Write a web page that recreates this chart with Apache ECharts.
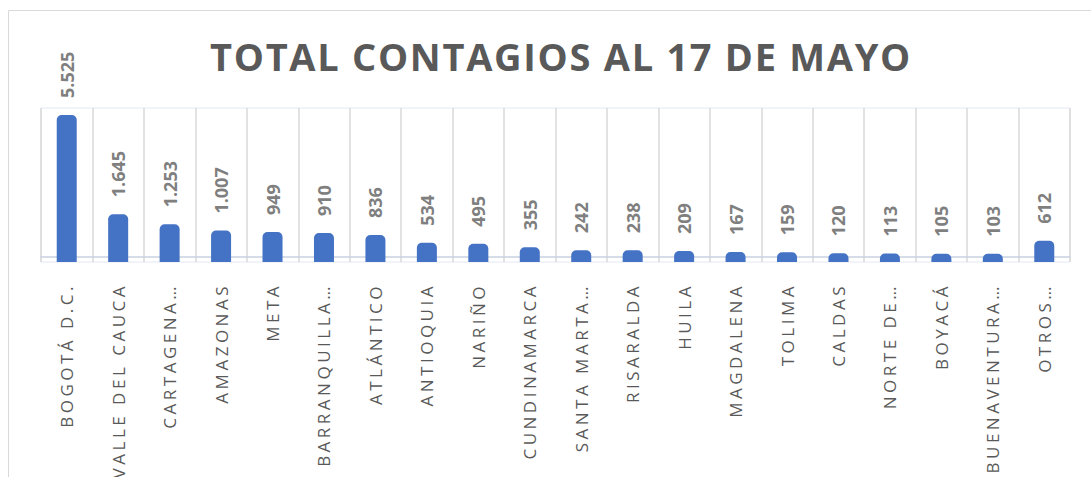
<!DOCTYPE html>
<html lang="es">
<head>
    <meta charset="UTF-8">
    <title>Total contagios al 17 de mayo</title>
    <style>
        html, body { margin: 0; padding: 0; background: #fff; }
        #echarts text[style*="17px"] { letter-spacing: 3.5px; }
        #echarts text[style*="38px"] { letter-spacing: 1.7px; }
    </style>
</head>
<body>

    <div id="echarts" style="width: 1091px; height: 477px"></div>
    <script src="https://cdn.jsdelivr.net/npm/echarts@6/dist/echarts.min.js"></script>
    <script>
        // datos
        const departamentos = ['BOGOTÁ D.C.', 'VALLE DEL CAUCA', 'CARTAGENA…', 'AMAZONAS', 'META',
            'BARRANQUILLA…', 'ATLÁNTICO', 'ANTIOQUIA', 'NARIÑO', 'CUNDINAMARCA', 'SANTA MARTA…',
            'RISARALDA', 'HUILA', 'MAGDALENA', 'TOLIMA', 'CALDAS', 'NORTE DE…', 'BOYACÁ',
            'BUENAVENTURA…', 'OTROS…'];
        const contagios = [5525, 1645, 1253, 1007, 949, 910, 836, 534, 495, 355, 242, 238, 209, 167,
            159, 120, 113, 105, 103, 612];

        const puntos = v => String(v).replace(/\B(?=(\d{3})+(?!\d))/g, '.');

        const option = {
            backgroundColor: '#fff',
            title: {
                text: 'TOTAL CONTAGIOS AL 17 DE MAYO',
                left: 556,
                textAlign: 'center',
                top: 32,
                textStyle: {
                    fontFamily: 'Open Sans',
                    fontSize: 38,
                    fontWeight: 'bold',
                    color: '#595959'
                }
            },
            graphic: [{
                type: 'polyline',
                shape: { points: [[8.5, 477], [8.5, 10.5], [1091, 10.5]] },
                style: { stroke: '#d9d9d9', fill: null, lineWidth: 1 },
                silent: true
            }],
            grid: {
                left: 41, right: 21, top: 108, bottom: 215,
                show: true,
                borderColor: '#e3e8f1',
                borderWidth: 1
            },
            xAxis: {
                type: 'category',
                data: departamentos,
                axisTick: { show: false },
                axisLine: { lineStyle: { color: '#c9d1e0', width: 1.5 } },
                splitLine: { show: true, lineStyle: { color: '#d9d9d9', width: 1.5 } },
                axisLabel: {
                    rotate: 90,
                    interval: 0,
                    margin: 21,
                    fontFamily: 'Open Sans',
                    fontSize: 17,
                    color: '#595959'
                }
            },
            yAxis: {
                type: 'value',
                min: -220,
                max: 5800,
                startValue: -220,
                show: false,
                splitLine: { show: false }
            },
            series: [{
                type: 'bar',
                data: contagios,
                barWidth: 20,
                itemStyle: { color: '#4472c4', borderRadius: [5, 5, 0, 0] },
                label: {
                    show: true,
                    position: 'top',
                    rotate: 90,
                    align: 'left',
                    verticalAlign: 'middle',
                    distance: 17,
                    formatter: p => puntos(p.value),
                    fontFamily: 'Open Sans',
                    fontSize: 18,
                    fontWeight: 'bold',
                    color: '#7f7f7f'
                }
            }]
        };

        var chartDom = document.getElementById("echarts");
        var myChart = echarts.init(chartDom, null, { renderer: 'svg' });
        myChart.setOption(option);
    </script>
</body>
</html>
